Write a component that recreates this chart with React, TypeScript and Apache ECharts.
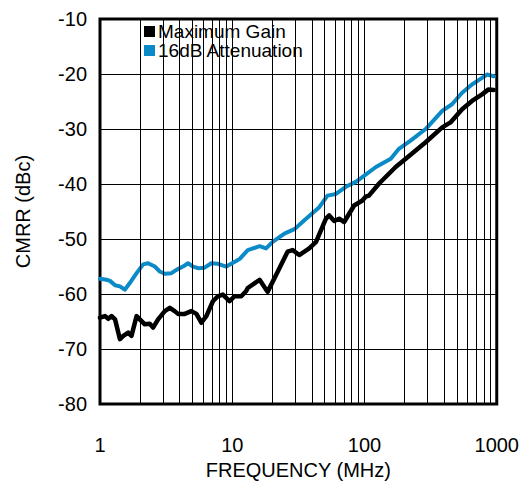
import React, { useEffect, useRef } from "react";
import * as echarts from "echarts";

const FONT = "'Liberation Sans', Arial, Helvetica, sans-serif";

const maxGainFreq = [1, 1.09, 1.155, 1.225, 1.3, 1.415, 1.5, 1.635, 1.73, 1.89, 2.0, 2.18, 2.38, 2.52, 2.75, 3.09, 3.37, 3.67, 3.89, 4.37, 4.91, 5.36, 5.84, 6.37, 7.14, 7.78, 8.49, 9.54, 10.4, 11.7, 12.7, 13.1, 16.1, 18.5, 22.1, 26.2, 28.6, 32.1, 38.2, 43.0, 51.1, 54.1, 59.0, 64.4, 70.2, 76.5, 83.5, 96.4, 102, 108, 129, 172, 205, 290, 387, 447, 547, 650, 774, 868, 948];
const maxGainCmrr = [-64.3, -64.0, -64.5, -64.0, -64.6, -68.2, -67.6, -67.0, -67.6, -64.0, -64.6, -65.5, -65.4, -66.1, -64.6, -63.1, -62.5, -63.1, -63.6, -63.6, -63.1, -63.6, -65.2, -64.0, -61.3, -60.4, -60.1, -61.3, -60.4, -60.4, -59.5, -58.9, -57.4, -59.6, -55.9, -52.3, -52.0, -52.9, -51.7, -50.5, -46.3, -45.7, -46.7, -46.3, -46.9, -45.4, -43.9, -43.0, -42.3, -42.1, -39.9, -36.9, -35.4, -32.4, -29.7, -28.8, -26.4, -24.9, -23.7, -22.8, -22.9];

const attenFreq = [1, 1.12, 1.19, 1.3, 1.415, 1.54, 1.68, 1.89, 2.12, 2.31, 2.6, 2.83, 3.09, 3.47, 3.78, 4.24, 4.63, 5.05, 5.51, 6.18, 6.95, 7.78, 9.01, 10.7, 11.4, 12.0, 13.1, 16.1, 18.0, 20.2, 24.8, 29.5, 35.1, 45.5, 52.5, 60.8, 72.3, 86.0, 102, 122, 158, 182, 223, 290, 387, 459, 547, 650, 730, 844, 948];
const attenCmrr = [-57.2, -57.4, -57.6, -58.4, -58.6, -59.2, -58.0, -56.2, -54.6, -54.4, -55.0, -55.9, -56.3, -56.2, -55.6, -55.0, -54.4, -55.0, -55.3, -55.2, -54.4, -54.5, -55.0, -54.0, -53.6, -53.0, -52.0, -51.3, -51.7, -50.5, -49.0, -48.2, -46.6, -44.2, -42.1, -41.8, -40.5, -39.6, -38.3, -36.9, -35.4, -33.6, -32.1, -30.0, -26.7, -25.5, -23.4, -21.9, -21.1, -20.1, -20.4];

const seriesNames = ["Maximum Gain", "16dB Attenuation"];
const minorFreqs = [2, 3, 4, 5, 6, 7, 8, 9, 20, 30, 40, 50, 60, 70, 80, 90, 200, 300, 400, 500, 600, 700, 800, 900];
const xMin = 1;
const xMax = 1000;
const yMin = -80;
const yMax = -10;
const yStep = 10;

export default function App() {
  const ref = useRef<HTMLDivElement>(null);
  useEffect(() => {
    if (!ref.current) return;
    const chart = echarts.init(ref.current, undefined, { renderer: "svg" });
    chart.setOption({
      animation: false,
      backgroundColor: "#ffffff",
      textStyle: { fontFamily: FONT },
      grid: {
        left: 100,
        right: 24,
        top: 19,
        bottom: 78,
        show: true,
        borderColor: "#000",
        borderWidth: 3,
        backgroundColor: "transparent",
      },
      legend: {
        data: seriesNames,
        orient: "vertical",
        left: 139,
        top: 17,
        icon: "rect",
        itemWidth: 11,
        itemHeight: 11,
        itemGap: 0,
        selectedMode: false,
        textStyle: { fontFamily: FONT, fontSize: 19, lineHeight: 18, height: 18, color: "#000", padding: [0, 0, 0, -2] },
      },
      xAxis: {
        type: "log",
        logBase: 10,
        min: xMin,
        max: xMax,
        name: "FREQUENCY (MHz)",
        nameLocation: "middle",
        nameGap: 45,
        nameTextStyle: { fontFamily: FONT, fontSize: 20, color: "#000" },
        axisLine: { show: false },
        axisTick: { show: false },
        axisLabel: {
          fontFamily: FONT,
          fontSize: 20,
          color: "#000",
          margin: 31,
          formatter: (v: number) => String(Math.round(v)),
        },
        splitLine: { show: true, lineStyle: { color: "#000", width: 1 } },
      },
      yAxis: {
        type: "value",
        min: yMin,
        max: yMax,
        interval: yStep,
        name: "CMRR (dBc)",
        nameLocation: "middle",
        nameGap: 67,
        nameTextStyle: { fontFamily: FONT, fontSize: 20, color: "#000" },
        axisLine: { show: false },
        axisTick: { show: false },
        axisLabel: { fontFamily: FONT, fontSize: 20, color: "#000", margin: 13 },
        splitLine: { show: true, lineStyle: { color: "#000", width: 1 } },
      },
      series: [
        {
          name: "minor-grid",
          type: "line",
          data: [],
          z: 1,
          silent: true,
          markLine: {
            silent: true,
            symbol: "none",
            label: { show: false },
            emphasis: { disabled: true },
            lineStyle: { color: "#000", width: 1, type: "solid" },
            data: minorFreqs.map((v) => ({ xAxis: v })),
          },
        },
        {
          name: seriesNames[0],
          type: "line",
          z: 3,
          data: maxGainFreq.map((f, i) => [f, maxGainCmrr[i]]),
          showSymbol: false,
          itemStyle: { color: "#000000" },
          lineStyle: { color: "#000000", width: 4.5, join: "round", cap: "round" },
        },
        {
          name: seriesNames[1],
          type: "line",
          z: 3,
          data: attenFreq.map((f, i) => [f, attenCmrr[i]]),
          showSymbol: false,
          itemStyle: { color: "#0b8ac8" },
          lineStyle: { color: "#0b8ac8", width: 4, join: "round", cap: "round" },
        },
      ],
    });
    return () => chart.dispose();
  }, []);
  return (
    <div
      ref={ref}
      style={{ position: "fixed", left: 0, top: 0, width: 522, height: 485, background: "#fff" }}
    />
  );
}
